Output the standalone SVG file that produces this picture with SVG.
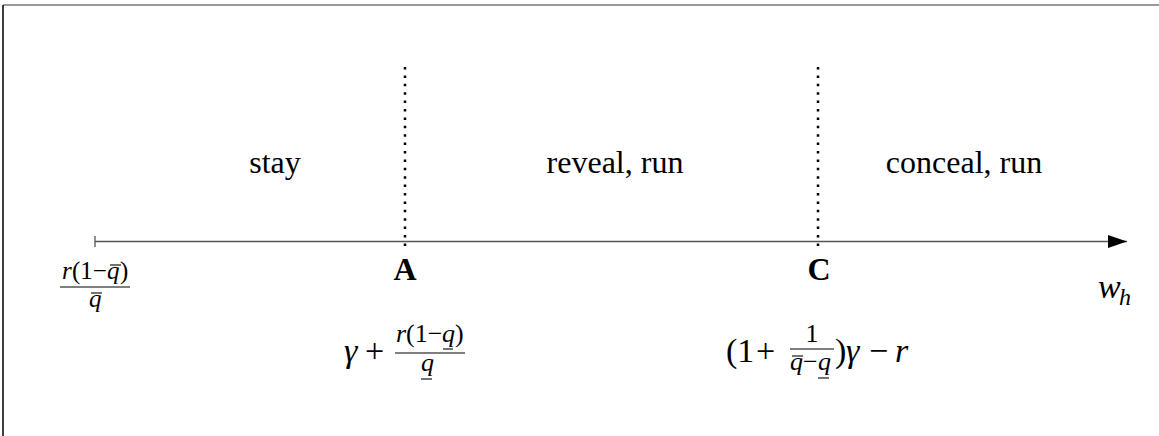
<svg xmlns="http://www.w3.org/2000/svg" width="1159" height="436" viewBox="0 0 1159 436">
<defs>
<style>
text{font-family:"Liberation Serif",serif;fill:#000}
.reg{font-size:32px}
.lbl{font-size:32px;font-weight:bold}
.f{font-size:26px}
.g{font-size:25px}
.M{font-size:34px}
.i{font-style:italic}
.bar{stroke:#000;stroke-width:1.2}
.mk{stroke:#000;stroke-width:1.1}
.dot{stroke:#000;stroke-width:2.5;stroke-dasharray:2.5 5.9}
</style>
<marker id="arr" markerWidth="19" markerHeight="13" refX="19" refY="6.5" orient="auto" markerUnits="userSpaceOnUse">
<path d="M0,0 L19,6.5 L0,13 Z" fill="#000"/>
</marker>
</defs>
<rect x="0" y="0" width="1159" height="436" fill="#fff"/>
<line x1="3" y1="5" x2="1159" y2="5" stroke="#777" stroke-width="1.5"/>
<line x1="3" y1="5" x2="3" y2="436" stroke="#000" stroke-width="1.5"/>
<g id="connectors">
<line x1="95" y1="241.5" x2="1127" y2="241.5" stroke="#555" stroke-width="1.3" marker-end="url(#arr)"/>
<line x1="95" y1="236" x2="95" y2="247" stroke="#555" stroke-width="1.3"/>
<line class="dot" x1="405" y1="67" x2="405" y2="248"/>
<line class="dot" x1="818" y1="67" x2="818" y2="248"/>
</g>
<g id="stay"><text class="reg" x="275" y="173" text-anchor="middle">stay</text></g>
<g id="reveal"><text class="reg" x="615" y="173" text-anchor="middle">reveal, run</text></g>
<g id="conceal"><text class="reg" x="964" y="173" text-anchor="middle">conceal, run</text></g>
<g id="A"><text class="lbl" x="405" y="280" text-anchor="middle">A</text></g>
<g id="C"><text class="lbl" x="819" y="280" text-anchor="middle">C</text></g>
<g id="wh"><text class="M i" x="1098" y="298">w<tspan font-size="24" x="1119" y="305">h</tspan></text></g>
<g id="origin">
<text class="g"><tspan class="i" x="62" y="279">r</tspan><tspan x="72" y="279">(1−</tspan><tspan class="i" x="107" y="279">q</tspan><tspan x="120" y="279">)</tspan></text>
<line class="mk" x1="110" y1="265" x2="121" y2="265"/>
<line class="bar" x1="60" y1="287" x2="130" y2="287"/>
<text class="g i" x="89" y="307">q</text>
<line class="mk" x1="91" y1="293" x2="102" y2="293"/>
</g>
<g id="Aval">
<text class="M"><tspan class="i" x="344" y="362">γ</tspan><tspan x="365" y="362">+</tspan></text>
<text class="f"><tspan class="i" x="396" y="342">r</tspan><tspan x="406" y="342">(1−</tspan><tspan class="i" x="442" y="342">q</tspan><tspan x="455" y="342">)</tspan></text>
<line class="mk" x1="443" y1="349" x2="453" y2="349"/>
<line class="bar" x1="395" y1="353" x2="465" y2="353"/>
<text class="f i" x="421" y="371">q</text>
<line class="mk" x1="421" y1="379" x2="432" y2="379"/>
</g>
<g id="Cval">
<text class="M"><tspan x="726" y="362">(1</tspan><tspan x="756" y="362">+</tspan></text>
<text class="f" x="812" y="342" text-anchor="middle">1</text>
<line class="bar" x1="790" y1="349" x2="834" y2="349"/>
<text class="f"><tspan class="i" x="790" y="370">q</tspan><tspan x="803" y="370">−</tspan><tspan class="i" x="818" y="370">q</tspan></text>
<line class="mk" x1="792" y1="356" x2="803" y2="356"/>
<line class="mk" x1="818" y1="378" x2="829" y2="378"/>
<text class="M"><tspan x="835" y="362">)</tspan><tspan class="i" x="846" y="362">γ</tspan><tspan x="869" y="362">−</tspan><tspan class="i" x="895" y="362">r</tspan></text>
</g>
</svg>
